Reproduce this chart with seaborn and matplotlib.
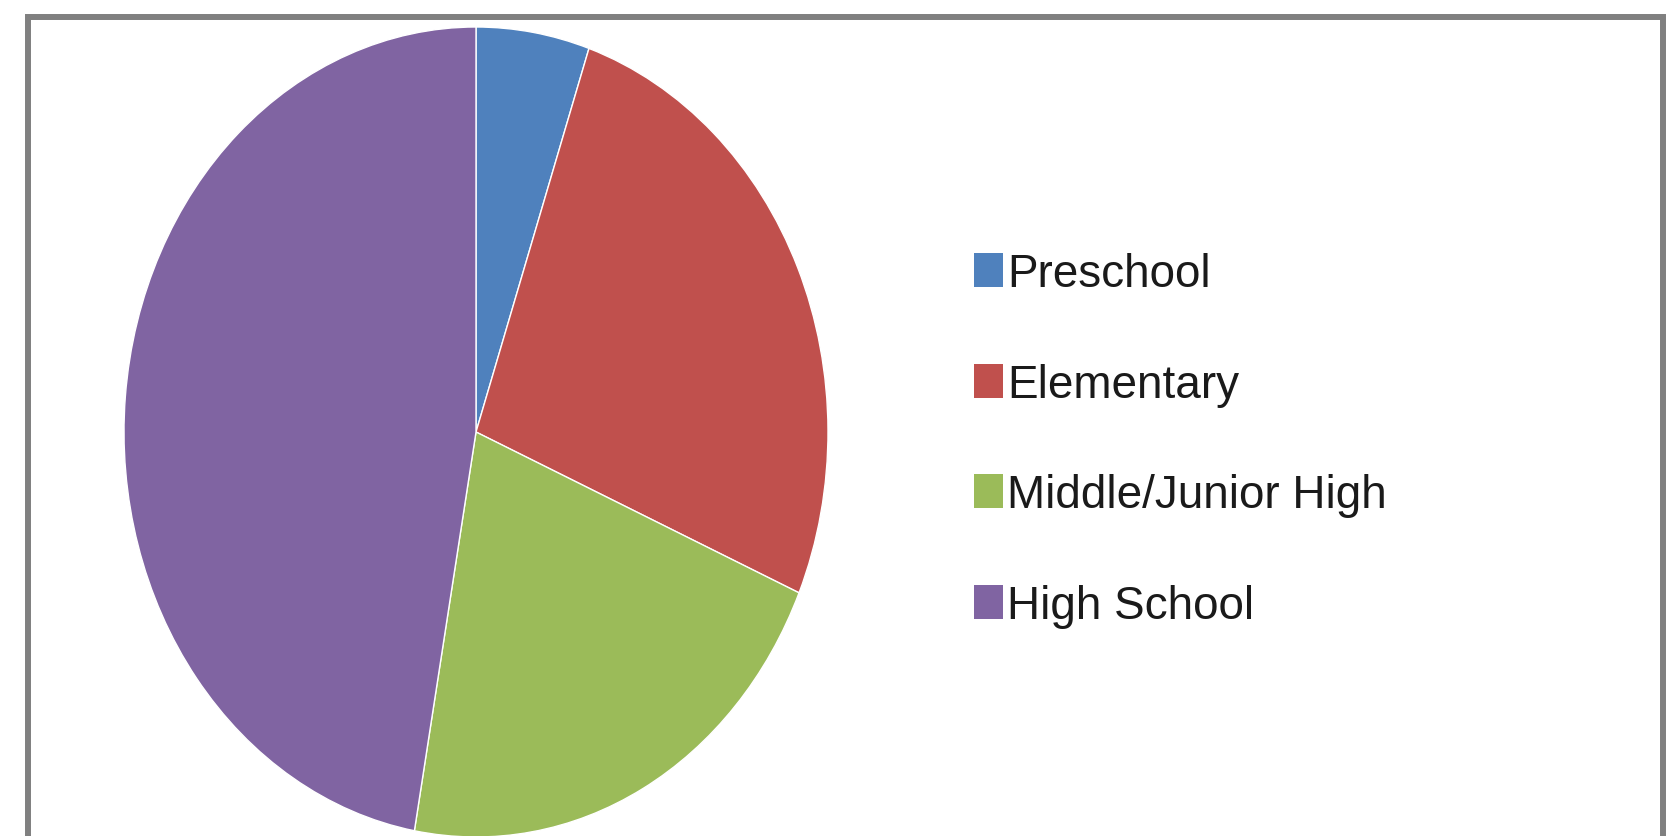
import matplotlib
matplotlib.use("Agg")
import matplotlib.pyplot as plt
from matplotlib.patches import Rectangle
import seaborn as sns

# share of students by school level (percent)
levels = ['Preschool', 'Elementary', 'Middle/Junior High', 'High School']
shares = [5.2, 26.3, 21.3, 47.2]
level_colors = ['#4F81BD', '#C0504D', '#9BBB59', '#8064A2']

sns.set_theme(style='white')
plt.rcParams['font.family'] = ['Liberation Sans', 'DejaVu Sans']

W, H = 1678, 837
fig = plt.figure(figsize=(W / 100, H / 100), dpi=100)
fig.patch.set_facecolor('white')

# the original pie is stretched vertically, so the axes box is not square
cx, cy, rx, ry = 476, 433, 352, 405
ax = fig.add_axes([(cx - rx) / W, (H - cy - ry) / H, 2 * rx / W, 2 * ry / H])

palette = sns.color_palette(level_colors)
wedges, _ = ax.pie(shares, colors=palette, startangle=90, counterclock=False,
                   wedgeprops=dict(edgecolor='white', linewidth=1))
ax.set_aspect('auto')
ax.set_xlim(-1, 1)
ax.set_ylim(-1, 1)
ax.axis('off')

leg = fig.legend(wedges, levels, loc='center left',
                 bbox_to_anchor=(974 / W, 1 - 441 / H), bbox_transform=fig.transFigure,
                 frameon=False, fontsize=33, handlelength=0.63, handleheight=0.76,
                 handletextpad=0.1, labelspacing=1.45, borderpad=0, borderaxespad=0)
for t in leg.get_texts():
    t.set_color('#1a1a1a')
for h in leg.legend_handles:
    h.set_edgecolor('none')

# grey chart frame, open at the bottom edge of the image
fig.add_artist(Rectangle((28 / W, -0.05), (1663 - 28) / W, 1.05 - 18 / H,
                         transform=fig.transFigure, fill=False,
                         edgecolor='#808080', linewidth=4.3))

fig.savefig('out.png', dpi=100)
